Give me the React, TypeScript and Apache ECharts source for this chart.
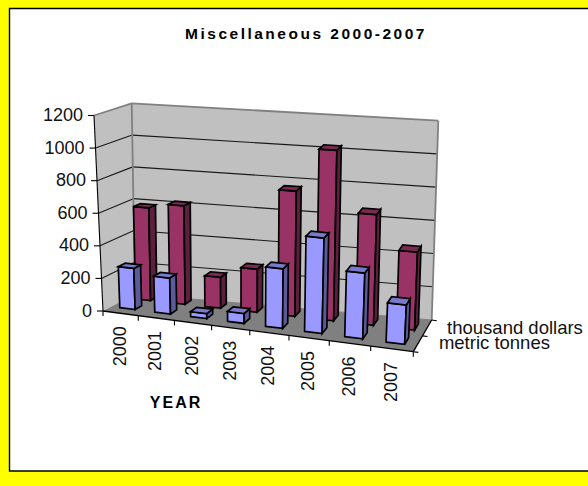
import React, { useEffect, useRef } from "react";
import * as echarts from "echarts";

const categories = ["2000", "2001", "2002", "2003", "2004", "2005", "2006", "2007"];
const metricTonnes = [253, 220, 30, 60, 358, 570, 390, 232];
const thousandDollars = [577, 610, 190, 263, 762, 1030, 665, 465];
const yTicks = [0, 200, 400, 600, 800, 1000, 1200];
const seriesNames = ["metric tonnes", "thousand dollars"];
const titleText = "Miscellaneous 2000-2007";
const xName = "YEAR";

const K = 1.114;
const FL0 = [103, 311], FL1 = [94, 115.5], BL0 = [135, 294], BL1 = [131.7, 103.3];
const FR0 = [413.3, 351.7], FR1 = [423.3, 146.7], BR0 = [431.7, 320], BR1 = [438.3, 120.7];
const lerp = (a: number[], b: number[], f: number) => [a[0] + (b[0] - a[0]) * f, a[1] + (b[1] - a[1]) * f];
const warp = (u: number) => (u <= 0 ? 0 : u / (u + K * (1 - u)));
function P(u: number, d: number, t: number) {
  const s = warp(u);
  const bottom = lerp(lerp(FL0, FR0, s), lerp(BL0, BR0, s), d);
  const top = lerp(lerp(FL1, FR1, s), lerp(BL1, BR1, s), d);
  return lerp(bottom, top, t);
}
const FONT = "Liberation Sans";
const poly = (points: number[][], fill: string | null, stroke: string | null, lineWidth = 1.7) => ({
  type: "polygon",
  shape: { points },
  style: { fill: fill || "none", stroke: stroke || "none", lineWidth, lineJoin: "miter" },
  silent: true,
});
const line = (a: number[], b: number[], stroke: string, lineWidth = 1.1) => ({
  type: "line",
  shape: { x1: a[0], y1: a[1], x2: b[0], y2: b[1] },
  style: { stroke, lineWidth },
  silent: true,
});
const label = (text: string, x: number, y: number, align: string, rotation = 0, size = 18) => ({
  type: "text",
  x,
  y,
  rotation,
  style: { text, x: 0, y: 0, fill: "#111", font: `${size}px "${FONT}"`, textAlign: align, textVerticalAlign: "middle" },
  silent: true,
});

function makeBars(d0: number, d1: number, drift: number, uDrift: number, colors: string[]) {
  return (params: any, api: any) => {
    const cs = params.coordSys;
    const c = api.coord([api.value(0), api.value(1)]);
    const catW = api.size([1, 0])[0] / cs.width;
    const raw = (c[0] - cs.x) / cs.width;
    const u = raw - 0.004 + uDrift * warp(raw);
    const t = (cs.y + cs.height - c[1]) / cs.height;
    const u0 = u - catW * 0.22, u1 = u + catW * 0.22;
    const shift = drift * warp(u);
    const f0 = d0 - shift, f1 = d1 - shift;
    const a = P(u0, f0, 0), b = P(u1, f0, 0), cc = P(u1, f0, t), e = P(u0, f0, t);
    const f = P(u1, f1, 0), g = P(u1, f1, t), h = P(u0, f1, t);
    return {
      type: "group",
      children: [
        poly([a, b, cc, e], colors[0], "#000"),
        poly([b, f, g, cc], colors[1], "#000"),
        poly([e, cc, g, h], colors[2], "#000"),
      ],
    };
  };
}

function renderFrame(params: any, api: any) {
  if (params.dataIndex !== 0) return { type: "group", children: [] };
  const cs = params.coordSys;
  const tOf = (v: number) => (cs.y + cs.height - api.coord([0, v])[1]) / cs.height;
  const children: any[] = [
    poly([P(0, 0, 0), P(0, 1, 0), P(0, 1, 1), P(0, 0, 1)], "#C0C0C0", null),
    poly([P(0, 1, 0), P(1, 1, 0), P(1, 1, 1), P(0, 1, 1)], "#C0C0C0", null),
    poly([P(0, 0, 0), P(1, 0, 0), P(1, 1, 0), P(0, 1, 0)], "#808080", null),
  ];
  yTicks.forEach((v) => {
    const t = tOf(v);
    if (v > 0 && t < 1) {
      children.push(line(P(0, 0, t), P(0, 1, t), "#1a1a1a"));
      children.push(line(P(0, 1, t), P(1, 1, t), "#1a1a1a"));
    }
    const p = P(0, 0, t);
    children.push(line([p[0] - 6, p[1]], p, "#000"));
    children.push(label(String(v), p[0] - 11, p[1] - 0.5, "right"));
  });
  children.push(line(P(0, 0, 1), P(0, 1, 1), "#808080", 1.8));
  children.push(line(P(0, 1, 1), P(1, 1, 1), "#808080", 1.8));
  children.push(line(P(0, 1, 0), P(0, 1, 1), "#808080", 1.8));
  children.push(line(P(1, 1, 0), P(1, 1, 1), "#808080", 1.8));
  children.push(line(P(0, 1, 0), P(1, 1, 0), "#808080", 1));
  children.push(line(P(0, 0, 0), P(0, 0, 1), "#000", 1.1));
  children.push(line(P(0, 0, 0), P(1, 0, 0), "#000", 1.3));
  children.push(line(P(1, 0, 0), P(1, 1, 0), "#000", 1.3));
  categories.forEach((name, i) => {
    const tick = P(i / 8, 0, 0);
    children.push(line(tick, [tick[0], tick[1] + 5], "#000"));
    const mid = P((api.coord([i, 0])[0] - cs.x) / cs.width, 0, 0);
    children.push(label(name, mid[0] - 1, mid[1] + 13, "right", Math.PI / 2));
  });
  const end = P(1, 0, 0);
  children.push(line(end, [end[0], end[1] + 5], "#000"));
  [0, 0.5, 1].forEach((d) => {
    const p = P(1, d, 0);
    children.push(line(p, [p[0] + 5, p[1] + 0.7], "#000"));
  });
  const m = P(1, 0.25, 0), o = P(1, 0.75, 0);
  children.push(label(seriesNames[0], m[0] + 21, m[1] - 1, "left", 0, 18.5));
  children.push(label(seriesNames[1], o[0] + 20, o[1], "left", 0, 18.5));
  return { type: "group", children };
}

export default function App() {
  const ref = useRef<HTMLDivElement>(null);
  useEffect(() => {
    const chart = echarts.init(ref.current!, undefined, { renderer: "svg", width: 588, height: 486 });
    chart.setOption({
      animation: false,
      backgroundColor: "#FFFF00",
      grid: { left: 100, top: 100, width: 320, height: 200 },
      xAxis: { type: "category", data: categories, show: false },
      yAxis: { type: "value", min: 0, max: 1200, interval: 200, show: false },
      title: [
        { text: titleText, left: 301, top: 20, textAlign: "center", textStyle: { fontFamily: FONT, fontSize: 15.5, fontWeight: "bold", color: "#000" } },
        { text: xName, left: 171, top: 389, textAlign: "center", textStyle: { fontFamily: FONT, fontSize: 16, fontWeight: "bold", color: "#000" } },
      ],
      graphic: [
        { type: "rect", z: -1, shape: { x: 9.5, y: 8.5, width: 600, height: 462.5 }, style: { fill: "#fff", stroke: "#000", lineWidth: 1.4 }, silent: true },
      ],
      series: [
        { type: "custom", name: "frame", coordinateSystem: "cartesian2d", renderItem: renderFrame, data: categories.map((_, i) => [i, 0]), z: 2, clip: false, silent: true },
        { type: "custom", name: seriesNames[1], coordinateSystem: "cartesian2d", renderItem: makeBars(0.76, 0.96, 0.12, 0.008, ["#993366", "#5C1F3D", "#7A2952"]), data: thousandDollars.map((v, i) => [i, v]), z: 3, clip: false, silent: true },
        { type: "custom", name: seriesNames[0], coordinateSystem: "cartesian2d", renderItem: makeBars(0.26, 0.47, 0.08, 0.004, ["#9999FF", "#5B5B99", "#7A7ACC"]), data: metricTonnes.map((v, i) => [i, v]), z: 4, clip: false, silent: true },
      ],
    });
    ref.current!.querySelectorAll("text").forEach((n) => {
      const txt = n.textContent || "";
      if (txt === titleText) (n as any).style.letterSpacing = "2.5px";
      if (txt === xName) (n as any).style.letterSpacing = "2px";
    });
    return () => chart.dispose();
  }, []);
  return <div ref={ref} style={{ position: "fixed", left: 0, top: 0, width: 588, height: 486 }} />;
}
